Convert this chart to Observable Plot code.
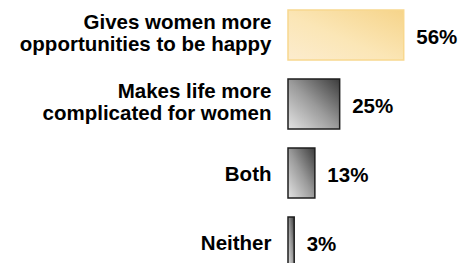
<!DOCTYPE html>
<html>
<head>
<meta charset="utf-8">
<script src="https://cdn.jsdelivr.net/npm/d3@7"></script>
<script src="https://cdn.jsdelivr.net/npm/@observablehq/plot@0.6"></script>
<style>
  html, body { margin: 0; padding: 0; background: #fff; }
  svg { display: block; }
</style>
</head>
<body>
<div id="chart"></div>
<script>
const categories = [
  "Gives women more\nopportunities to be happy",
  "Makes life more\ncomplicated for women",
  "Both",
  "Neither"
];
const values = [56, 25, 13, 3];
const valueLabels = ["56%", "25%", "13%", "3%"];

const data = categories.map((c, i) => ({category: c, value: values[i], label: valueLabels[i], first: i === 0, multi: c.includes("\n")}));

const defs = () => {
  const g = d3.create("svg:defs");
  const gold = g.append("linearGradient").attr("id", "goldGrad")
    .attr("x1", 0).attr("y1", 1).attr("x2", 1).attr("y2", 0);
  gold.append("stop").attr("offset", "0%").attr("stop-color", "#fcecce");
  gold.append("stop").attr("offset", "45%").attr("stop-color", "#fbe6b6");
  gold.append("stop").attr("offset", "100%").attr("stop-color", "#f6d48a");
  const gray = g.append("linearGradient").attr("id", "grayGrad")
    .attr("x1", 0).attr("y1", 1).attr("x2", 1).attr("y2", 0);
  gray.append("stop").attr("offset", "0%").attr("stop-color", "#e4e4e4");
  gray.append("stop").attr("offset", "50%").attr("stop-color", "#9a9a9a");
  gray.append("stop").attr("offset", "100%").attr("stop-color", "#3c3c3c");
  return g.node();
};

const font = "Liberation Sans, Arial, sans-serif";
const labelStyle = {x: 0, y: "category", text: "category", textAnchor: "end", dx: -17, fontSize: 20.5, fontWeight: "bold", lineHeight: 1.07, fill: "#000"};

const chart = Plot.plot({
  width: 462,
  height: 263,
  marginLeft: 288,
  marginRight: 50,
  marginTop: 0,
  marginBottom: 0,
  style: {fontFamily: font, background: "#fff"},
  x: {domain: [0, 60], axis: null},
  y: {domain: categories, range: [10, 267], paddingInner: 0.2754, paddingOuter: 0, axis: null},
  marks: [
    defs,
    Plot.barX(data.filter(d => d.first), {x: "value", y: "category", fill: "url(#goldGrad)", stroke: "#f8d88f", strokeWidth: 1.5}),
    Plot.barX(data.filter(d => !d.first), {x: "value", y: "category", fill: "url(#grayGrad)", stroke: "#1e1e1e", strokeWidth: 1.5}),
    Plot.text(data.filter(d => d.multi), {...labelStyle, dy: -3}),
    Plot.text(data.filter(d => !d.multi), {...labelStyle, dy: 0}),
    Plot.text(data, {x: "value", y: "category", text: "label", textAnchor: "start", dx: 12, dy: 2, fontSize: 20.5, fontWeight: "bold", fill: "#000"})
  ]
});
document.getElementById("chart").append(chart);
</script>
</body>
</html>
